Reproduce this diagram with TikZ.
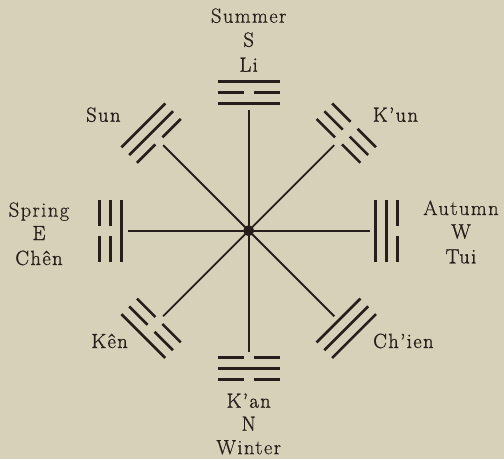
\documentclass[tikz,border=0pt]{standalone}
\usepackage{fontspec}
\setmainfont{Latin Modern Roman}
\definecolor{paper}{RGB}{214,209,184}
\definecolor{ink}{RGB}{38,30,26}
\newcommand\lbfont{\fontsize{20.5}{24}\selectfont\addfontfeature{LetterSpace=7,FakeBold=0.5}}
\newcommand\nmfont{\fontsize{20.5}{24}\selectfont\addfontfeature{LetterSpace=7,FakeBold=1.2}}
\newcommand\yline[2]{%
  \ifnum#2=1 \draw[yao] (#1,-31)--(#1,31);
  \else \draw[yao] (#1,-31)--(#1,-5) (#1,5)--(#1,31); \fi}
\begin{document}
\begin{tikzpicture}[x=1pt,y=1pt,
  yao/.style={ink,line width=2.6pt},
  spoke/.style={ink,line width=1.9pt},
  lbl/.style={text=ink,inner sep=0pt,anchor=base,font=\lbfont},
  nm/.style={lbl,font=\nmfont}]
\fill[paper] (-248.7,-228.3) rectangle (255.3,230.7);
\useasboundingbox (-248.7,-228.3) rectangle (255.3,230.7);
% centre and spokes
\coordinate (o) at (0,0);
\foreach \a [count=\i] in {0,45,...,315}{
  \coordinate (e\i) at (\a:121);
  \draw[spoke] (o) -- (e\i);
}
\node[circle,fill=ink,inner sep=0pt,minimum size=11pt] (c) at (o) {};
% trigrams: angle / inner / middle / outer (1 = solid, 0 = broken)
\foreach \a/\p/\q/\r in {90/1/0/1,270/0/1/0,180/1/0/0,0/1/1/0,135/0/1/1,45/0/0/0,225/0/0/1,315/1/1/1}{
  \begin{scope}[rotate=\a]
    \yline{127}{\p}\yline{138}{\q}\yline{149}{\r}
  \end{scope}
}
% labels
\node[lbl] (summer) at (0,208) {Summer};
\node[nm] (s) at (0,184) {S};
\node[nm] (li) at (0,159) {Li};
\node[nm] (kan) at (0,-177) {K’an};
\node[nm] (n) at (0,-200) {N};
\node[lbl] (winter) at (0,-223.5) {Winter};
\node[lbl] (spring) at (-209.7,14) {Spring};
\node[nm] (e) at (-209.7,-9.3) {E};
\node[nm] (chen) at (-209.7,-34.3) {Chên};
\node[lbl] (autumn) at (212.3,15.7) {Autumn};
\node[nm] (w) at (212.3,-7.6) {W};
\node[nm] (tui) at (212.3,-32.6) {Tui};
\node[nm,anchor=base east] (sun) at (-128,109) {Sun};
\node[nm,anchor=base west] (kun) at (124,109) {K’un};
\node[nm,anchor=base east] (ken) at (-120.7,-117.3) {Kên};
\node[nm,anchor=base west] (chien) at (124.3,-117.3) {Ch’ien};
\end{tikzpicture}
\end{document}
